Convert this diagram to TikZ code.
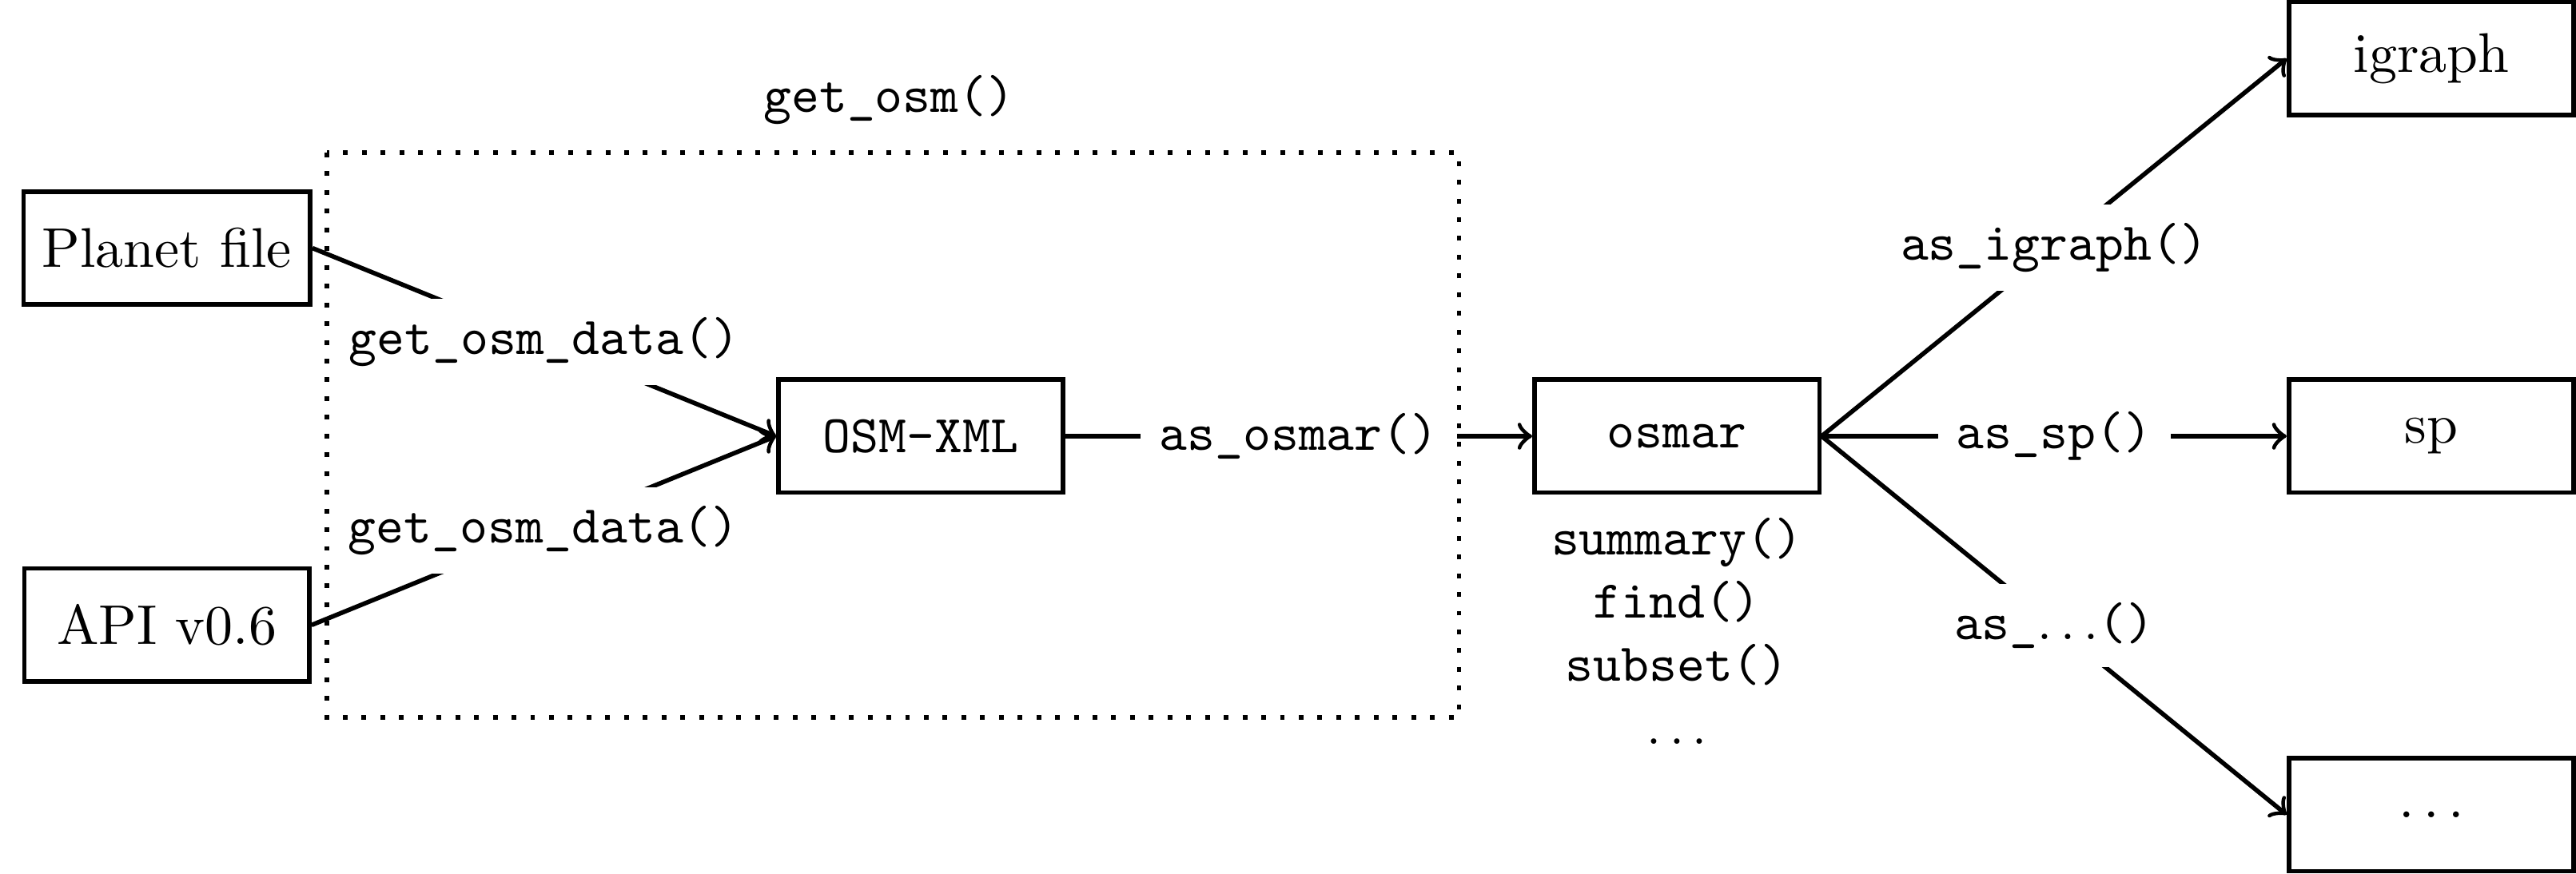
\documentclass[tikz,border=0pt]{standalone}
\begin{document}
\begin{tikzpicture}[
  box/.style={draw, thick, minimum width=1.79cm, minimum height=0.71cm},
  fn/.style={font=\fontsize{9.5}{11.3}\selectfont\ttfamily, fill=white},
  ]
  \useasboundingbox (0,0) rectangle (16.182,-5.488);
  \draw[thick, dash pattern=on 0.85pt off 2.5pt] (2.054,-0.959) rectangle (9.166,-4.509);
  \node[fn] (getosm) at (5.585,-0.628) {get\_osm()};

  \node[box] (planet) at (1.048,-1.559) {Planet file};
  \node[box] (api) at (1.048,-3.928) {API v0.6};
  \node[box, font=\fontsize{9.5}{11.3}\selectfont\ttfamily] (osmxml) at (5.784,-2.741) {OSM-XML};
  \node[box, font=\fontsize{9.5}{11.3}\selectfont\ttfamily] (osmar) at (10.534,-2.741) {osmar};
  \node[fn, fill=none, anchor=north, align=center] (ops) at ([yshift=-0.02cm]osmar.south) {summary()\\find()\\subset()\\$\ldots$};

  \node[box] (igraph) at (15.273,-0.368) {igraph};
  \node[box] (sp) at (15.273,-2.741) {sp};
  \node[box] (more) at (15.273,-5.120) {$\ldots$};

  \draw[thick, ->] (planet.east) -- node[fn] {get\_osm\_data()} (osmxml.west);
  \draw[thick, ->] (api.east) -- node[fn] {get\_osm\_data()} (osmxml.west);
  \draw[thick, ->] (osmxml.east) -- node[fn] {as\_osmar()} (osmar.west);
  \draw[thick, ->] (osmar.east) -- node[fn] {as\_igraph()} (igraph.west);
  \draw[thick, ->] (osmar.east) -- node[fn] {as\_sp()} (sp.west);
  \draw[thick, ->] (osmar.east) -- node[fn] {as\_$\ldots$()} (more.west);
\end{tikzpicture}
\end{document}
